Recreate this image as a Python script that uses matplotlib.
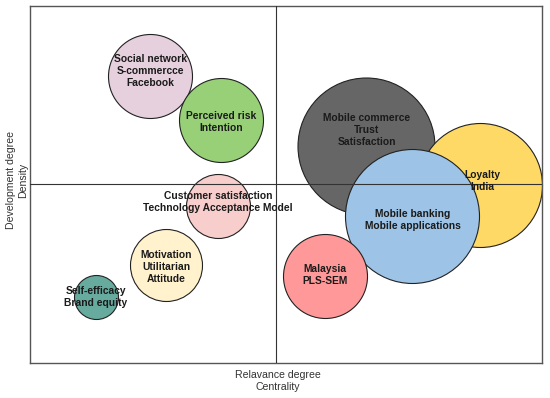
import matplotlib.pyplot as plt

plt.rcParams['font.family'] = ['Liberation Sans', 'DejaVu Sans']

# clusters: centrality (x), density (y), bubble weight (radius)
labels = [
    "Social network\nS-commercce\nFacebook",
    "Perceived risk\nIntention",
    "Customer satisfaction\nTechnology Acceptance Model",
    "Motivation\nUtilitarian\nAttitude",
    "Self-efficacy\nBrand equity",
    "Mobile commerce\nTrust\nSatisfaction",
    "Loyalty\nIndia",
    "Mobile banking\nMobile applications",
    "Malaysia\nPLS-SEM",
]
centrality = [23.5, 37.3, 36.7, 26.6, 12.8, 65.7, 87.9, 74.7, 57.6]
density = [80.4, 68.1, 44.0, 27.5, 18.5, 60.8, 49.9, 41.2, 24.4]
weight = [42, 42, 32, 36, 22, 68.5, 62, 67, 42]
label_x = [23.5, 37.3, 36.7, 26.6, 12.8, 65.8, 88.3, 74.7, 57.6]
label_y = [81.8, 67.4, 45.1, 26.9, 18.6, 65.4, 51.0, 40.1, 24.6]
colors = ["#E6D0DE", "#97D077", "#F8CECC", "#FFF2CC", "#67AB9F",
          "#666666", "#FFD966", "#9DC3E6", "#FF9999"]

mid_x = 48.0
mid_y = 50.1

fig = plt.figure(figsize=(5.5, 3.98), dpi=100)
ax = fig.add_axes([30 / 550, 35 / 398, 512 / 550, 357 / 398])
ax.set_xlim(0, 100)
ax.set_ylim(0, 100)
ax.set_xticks([])
ax.set_yticks([])
for sp in ax.spines.values():
    sp.set_color("#555555")
    sp.set_linewidth(1.0)

dpi = fig.dpi
for i in range(len(labels)):
    s = (2 * weight[i] * 72 / dpi) ** 2
    ax.scatter(centrality[i], density[i], s=s, color=colors[i],
               edgecolors="#222222", linewidths=0.8, zorder=2 + i * 0.01,
               clip_on=False)

ax.axvline(mid_x, color="#333333", lw=0.8, zorder=3)
ax.axhline(mid_y, color="#333333", lw=0.8, zorder=3)

for i in range(len(labels)):
    ax.text(label_x[i], label_y[i], labels[i], ha="center", va="center",
            fontsize=7.4, fontweight="bold", color="#1a1a1a",
            linespacing=1.25, zorder=4)

fig.text(278 / 550, 1 - 381.5 / 398, "Relavance degree\nCentrality",
         ha="center", va="center", fontsize=7.6, color="#333333",
         linespacing=1.25)
fig.text(17.5 / 550, 1 - 180 / 398, "Development degree\nDensity",
         ha="center", va="center", fontsize=7.6, color="#333333",
         rotation=90, linespacing=1.25)

fig.savefig("out.png", dpi=100)
